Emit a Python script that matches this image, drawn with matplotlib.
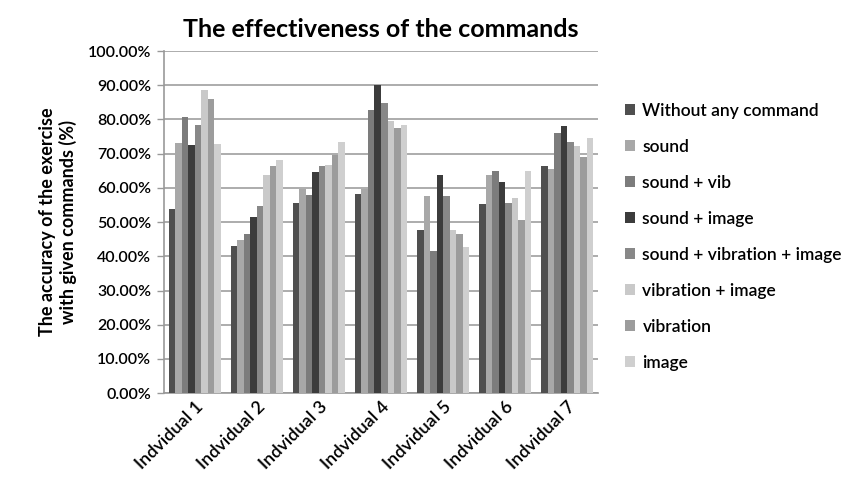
import numpy as np
import matplotlib
matplotlib.use("Agg")
import matplotlib.pyplot as plt
from matplotlib.ticker import FuncFormatter

plt.rcParams["font.family"] = ["Lato", "DejaVu Sans"]

# ---- data ----
individuals = ["Indvidual 1", "Indvidual 2", "Indvidual 3", "Indvidual 4",
               "Indvidual 5", "Indvidual 6", "Indvidual 7"]
series_names = ["Without any command", "sound", "sound + vib", "sound + image",
                "sound + vibration + image", "vibration + image", "vibration", "image"]

without_any = [53.7, 43.0, 55.5, 58.3, 47.7, 55.2, 66.3]
sound = [73.0, 44.7, 59.8, 59.8, 57.7, 63.7, 65.4]
sound_vib = [80.7, 46.6, 57.8, 82.7, 41.6, 65.0, 76.1]
sound_image = [72.6, 51.5, 64.7, 90.0, 63.8, 61.8, 78.1]
sound_vib_image = [78.4, 54.6, 66.3, 84.8, 57.7, 55.6, 73.5]
vib_image = [88.7, 63.7, 66.7, 79.5, 47.8, 57.1, 72.2]
vibration = [86.1, 66.3, 69.7, 77.4, 46.6, 50.6, 69.0]
image = [72.7, 68.1, 73.5, 78.3, 42.6, 65.0, 74.5]

series_values = [without_any, sound, sound_vib, sound_image,
                 sound_vib_image, vib_image, vibration, image]
colors = ["#4f4f4f", "#a8a8a8", "#7c7c7c", "#3c3c3c",
          "#888888", "#c9c9c9", "#9c9c9c", "#cfcfcf"]

fig = plt.figure(figsize=(8.62, 4.86), dpi=100)
ax = fig.add_axes([0.190, 0.191, 0.504, 0.704])

x = np.arange(len(individuals))
n = len(series_names)
group_w = 0.84
bar_w = group_w / n
for i, (name, vals) in enumerate(zip(series_names, series_values)):
    offs = -group_w / 2 + bar_w * (i + 0.5)
    ax.bar(x + offs, vals, width=bar_w, color=colors[i], label=name,
           edgecolor="none", zorder=3)

ax.set_xlim(-0.5, len(individuals) - 0.5)
ax.set_ylim(0, 100)
ax.set_yticks(np.arange(0, 101, 10))
ax.yaxis.set_major_formatter(FuncFormatter(lambda v, _: f"{v:.2f}%"))
ax.grid(axis="y", color="#a6a6a6", linewidth=1.3, zorder=0)
ax.set_axisbelow(True)

for s in ("top", "right"):
    ax.spines[s].set_visible(False)
ax.spines["left"].set_color("#999999")
ax.spines["bottom"].set_color("#999999")
ax.spines["left"].set_linewidth(1.2)
ax.spines["bottom"].set_linewidth(1.2)
ax.tick_params(axis="y", color="#999999", length=5, width=1.0,
               labelsize=11.5, pad=4)
ax.tick_params(axis="x", length=0, labelsize=13, pad=4)
for lbl in ax.get_yticklabels():
    lbl.set_fontweight("semibold")

ax.set_xticks(x)
ax.set_xticklabels(individuals, rotation=45, ha="right",
                   rotation_mode="anchor", fontweight="semibold")

ax.set_ylabel("The accuracy of the exercise\nwith given commands (%)",
              fontsize=13, fontweight="bold", labelpad=8)
ax.set_title("The effectiveness of the commands", fontsize=18,
             fontweight="bold", pad=10)

leg = fig.legend(loc="upper left", bbox_to_anchor=(0.707, 0.82),
                 frameon=False, fontsize=12.5, handlelength=0.6,
                 handleheight=0.6, handletextpad=0.4, labelspacing=1.15)
for t in leg.get_texts():
    t.set_fontweight("semibold")

fig.savefig("out.png", dpi=100, facecolor="white")
